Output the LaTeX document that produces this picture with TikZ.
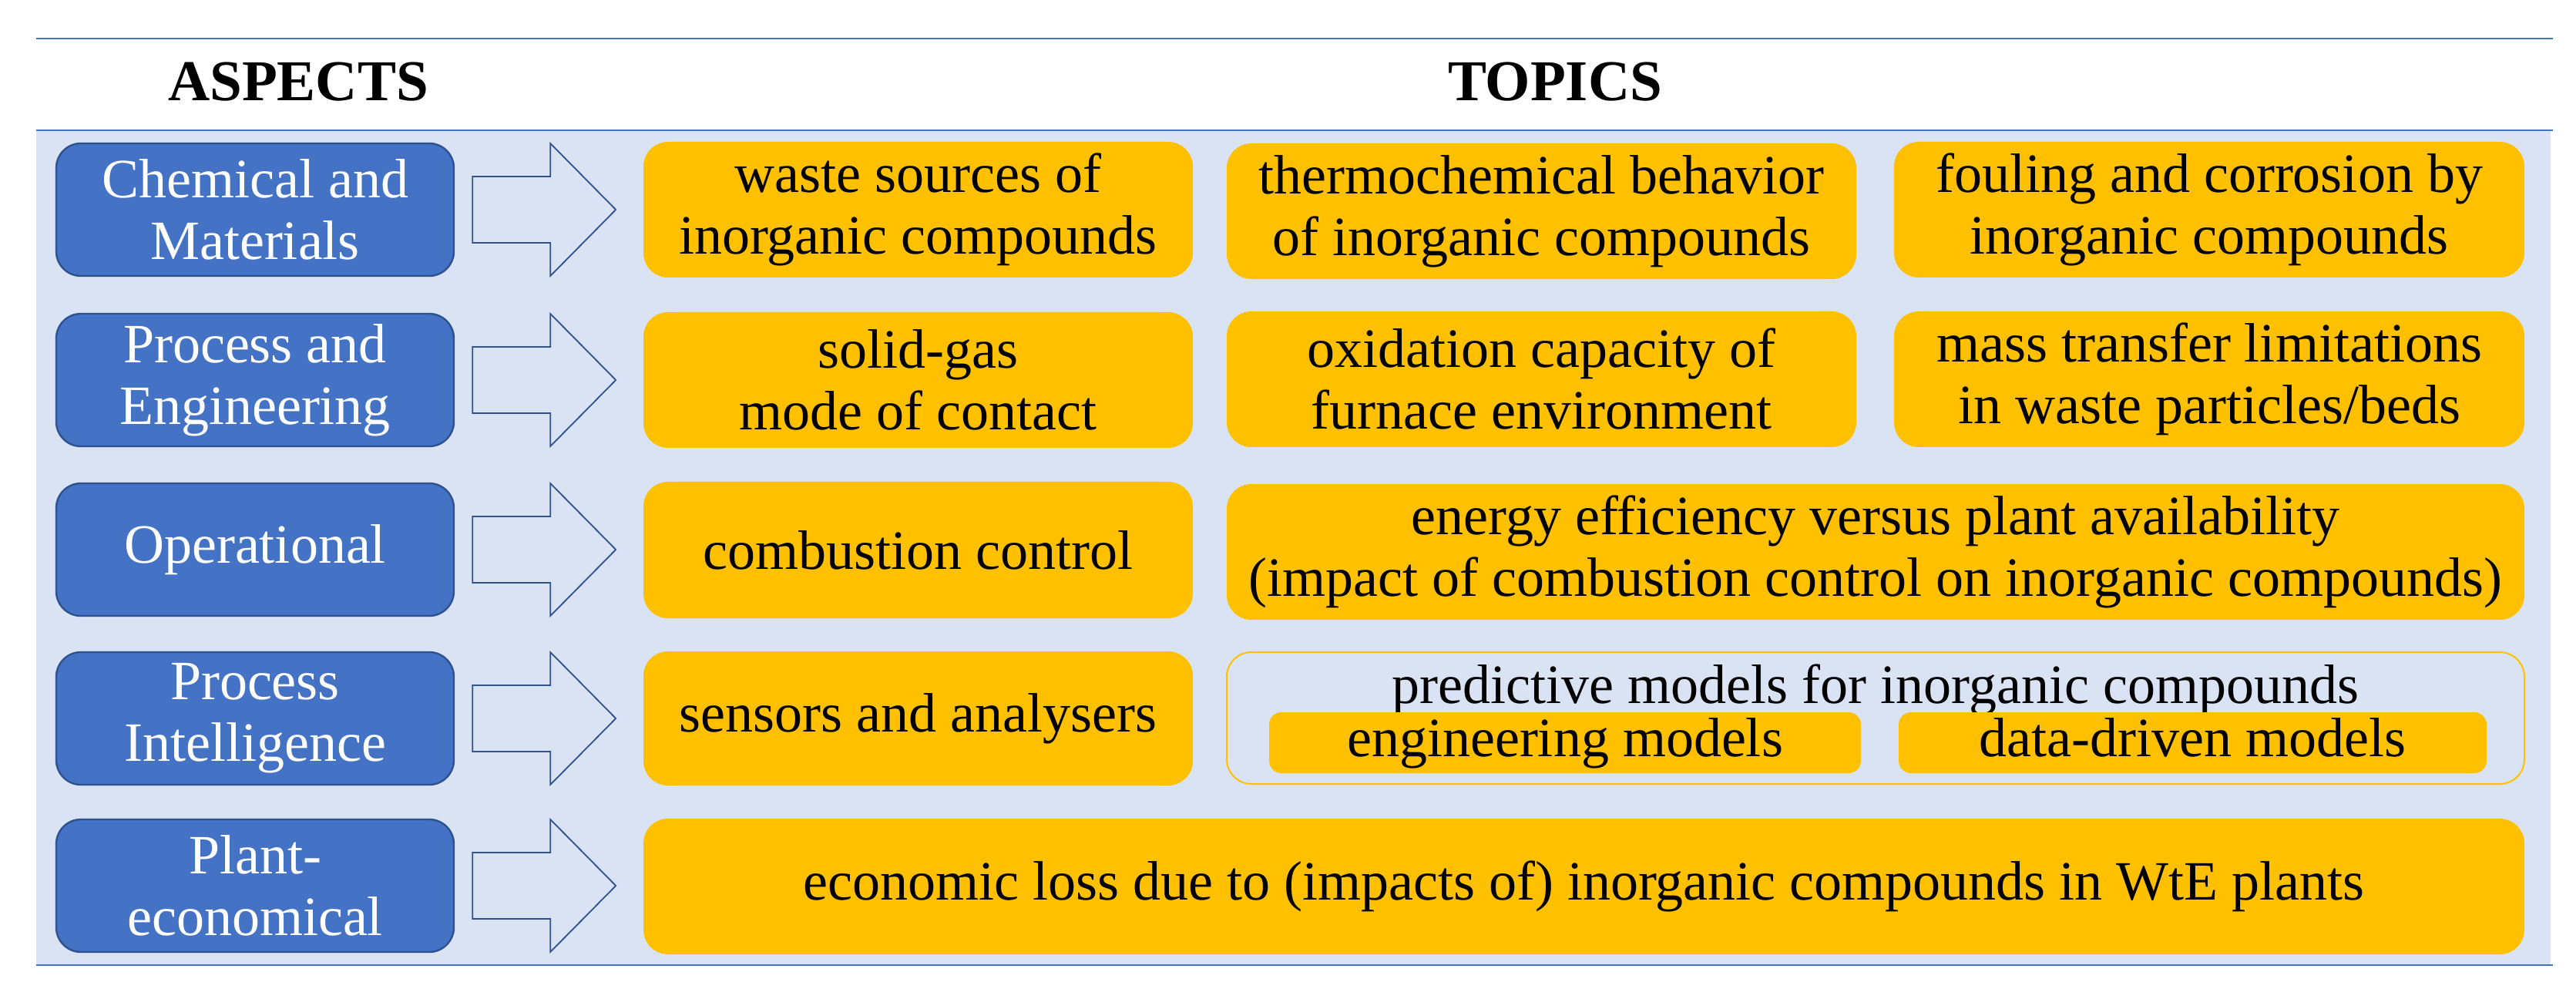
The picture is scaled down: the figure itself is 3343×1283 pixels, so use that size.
\documentclass[tikz,border=0pt]{standalone}
\usepackage{fontspec}
\setmainfont{Liberation Serif}
\definecolor{aspblue}{HTML}{4472C4}
\definecolor{aspborder}{HTML}{2F528F}
\definecolor{topicor}{HTML}{FFC000}
\definecolor{bgblue}{HTML}{DAE3F3}
\definecolor{rulecol}{HTML}{4472C4}
\newcommand\bodyfs{\fontsize{18pt}{20pt}\selectfont}
\newcommand\headfs{\fontsize{18.75pt}{21pt}\selectfont\bfseries}
\tikzset{
  aspect/.style={draw=aspborder, fill=aspblue, line width=0.6pt, rounded corners=8pt,
    text=white, align=center, inner sep=0pt, font=\bodyfs,
    minimum width=129pt, minimum height=43pt},
  topic/.style={fill=topicor, rounded corners=8pt, align=center, inner sep=0pt, font=\bodyfs},
  subtopic/.style={fill=topicor, rounded corners=4pt, align=center, inner sep=0pt, font=\bodyfs,
    minimum height=19.75pt, text height=13pt, text depth=4pt},
  groupbox/.style={draw=topicor, line width=0.5pt, rounded corners=8pt, inner sep=0pt},
  header/.style={font=\headfs, inner sep=0pt},
  plain/.style={font=\bodyfs, inner sep=0pt},
  rulefine/.style={draw=rulecol, line width=0.7pt},
  arrowline/.style={draw=aspborder, line width=0.45pt, line join=miter},
  blockarrow/.pic={\path[arrowline] (0,-43) -- (101,-43) -- (101,-86) -- (186,0) -- (101,86) -- (101,43) -- (0,43) -- cycle;}
}
\begin{document}
\begin{tikzpicture}[x=0.25pt,y=-0.25pt]
\useasboundingbox (0,0) rectangle (3343,1283);
% background band and rules
\fill[bgblue] (47,169) rectangle (3310,1252);
\draw[rulefine] (47,50) -- (3313,50);
\draw[rulefine] (47,169) -- (3313,169);
\draw[rulefine] (47,1252) -- (3313,1252);
% headers
\node[header] (hA) at (387,106) {ASPECTS};
\node[header] (hT) at (2018,106) {TOPICS};
% aspects
\node[aspect] (a1) at (331,272) {Chemical and\\Materials};
\node[aspect] (a2) at (331,493) {Process and\\Engineering};
\node[aspect] (a3) at (331,713) {Operational};
\node[aspect] (a4) at (331,932) {Process\\Intelligence};
\node[aspect] (a5) at (331,1149) {Plant-\\economical};
% arrows
\pic at ([xshift=5.75pt]a1.east) {blockarrow};
\pic at ([xshift=5.75pt]a2.east) {blockarrow};
\pic at ([xshift=5.75pt]a3.east) {blockarrow};
\pic at ([xshift=5.75pt]a4.east) {blockarrow};
\pic at ([xshift=5.75pt]a5.east) {blockarrow};
% row 1
\node[topic, minimum width=178.25pt, minimum height=44pt] (t1a) at (1191.5,272) {waste sources of\\inorganic compounds};
\node[topic, minimum width=204.25pt, minimum height=44pt] (t1b) at (2000.5,274) {thermochemical behavior\\of inorganic compounds};
\node[topic, minimum width=204.5pt, minimum height=44pt] (t1c) at (2867,272) {fouling and corrosion by\\inorganic compounds};
% row 2
\node[topic, minimum width=178.25pt, minimum height=44pt] (t2a) at (1191.5,493) {solid-gas\\mode of contact};
\node[topic, minimum width=204.25pt, minimum height=44pt] (t2b) at (2000.5,492) {oxidation capacity of\\furnace environment};
\node[topic, minimum width=204.5pt, minimum height=44pt] (t2c) at (2867,492) {mass transfer limitations\\in waste particles/beds};
% row 3
\node[topic, minimum width=178.25pt, minimum height=44.25pt] (t3a) at (1191.5,713.5) {combustion control};
\node[topic, minimum width=421pt, minimum height=44pt] (t3b) at (2434,716) {energy efficiency versus plant availability\\(impact of combustion control on inorganic compounds)};
% row 4
\node[topic, minimum width=178.25pt, minimum height=43.5pt] (t4a) at (1191.5,932) {sensors and analysers};
\node[groupbox, minimum width=421pt, minimum height=42.75pt] (t4g) at (2434,931.5) {};
\node[plain, anchor=base] (t4t) at (2434,912) {predictive models for inorganic compounds};
\node[subtopic, minimum width=192pt] (t4b) at (2031,963.5) {engineering models};
\node[subtopic, minimum width=190.75pt] (t4c) at (2845.5,963.5) {data-driven models};
% row 5
\node[topic, minimum width=610.25pt, minimum height=44pt] (t5) at (2055.5,1150) {economic loss due to (impacts of) inorganic compounds in WtE plants};
\end{tikzpicture}
\end{document}
